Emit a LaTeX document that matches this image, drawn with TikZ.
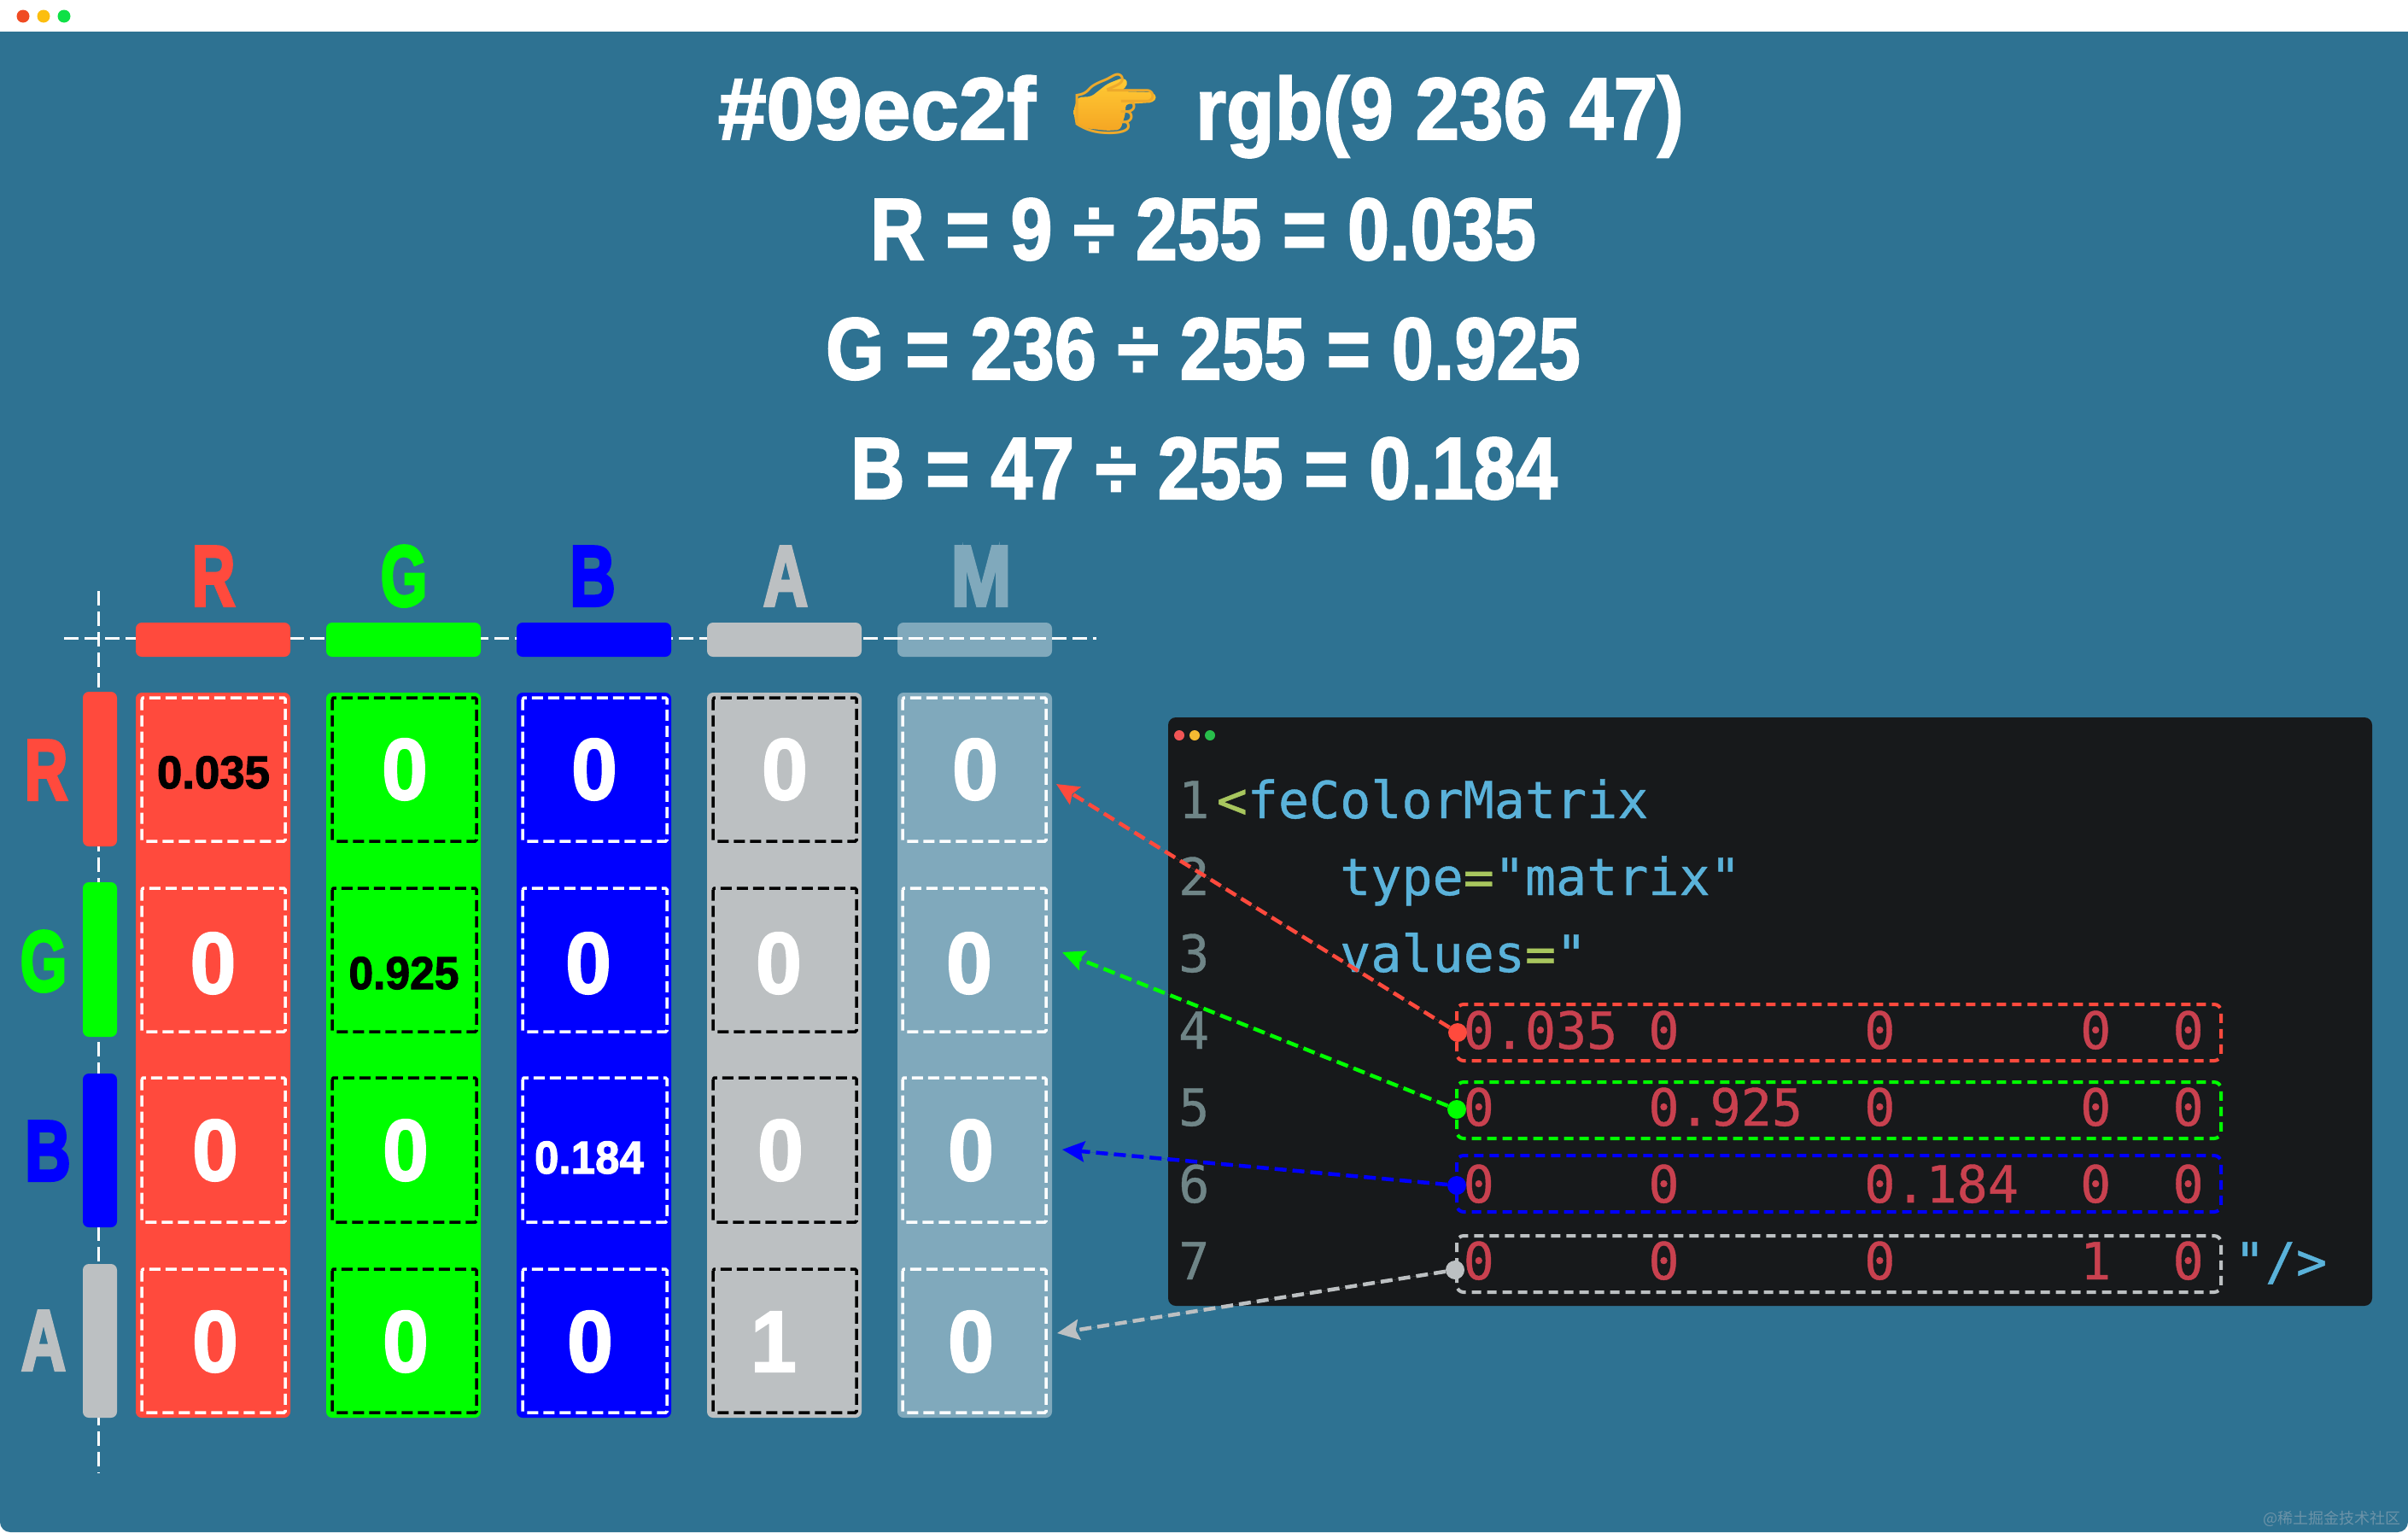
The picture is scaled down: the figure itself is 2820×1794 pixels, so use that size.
\documentclass[tikz,border=0pt]{standalone}
\usepackage{fontspec}
\usepackage{graphicx}
\usetikzlibrary{arrows.meta}
\setmainfont{Liberation Sans}
\newfontfamily\hvy{Liberation Sans}[BoldFeatures={FakeBold=2}]
\newfontfamily\hvyb{Liberation Sans}[BoldFeatures={FakeBold=4}]
\newfontfamily\codefont{DejaVu Sans Mono}[FakeBold=0.7]
\newfontfamily\emojifont{Noto Emoji}
\newfontfamily\cjk{Noto Sans CJK SC}
\definecolor{bgteal}{HTML}{2E7292}
\definecolor{cR}{HTML}{FF4A3D}
\definecolor{cG}{HTML}{00FF00}
\definecolor{cB}{HTML}{0000FF}
\definecolor{cA}{HTML}{BCC0C2}
\definecolor{cM}{HTML}{80A9BC}
\definecolor{panel}{HTML}{17191B}
\definecolor{lnum}{HTML}{6F8587}
\definecolor{cblue}{HTML}{5AB2DA}
\definecolor{cgreen}{HTML}{A8C65E}
\definecolor{cred}{HTML}{C9414F}
\definecolor{handA}{HTML}{FFCB35}
\definecolor{handB}{HTML}{F5A623}
\definecolor{handC}{HTML}{EDA92B}
\definecolor{wmark}{HTML}{6C93A8}
\newcommand{\fitw}[2]{\resizebox{#1pt}{\height}{#2}}
\newcommand{\sx}[2]{\scalebox{#1}[1]{#2}}
\tikzset{
  x=1pt,y=-1pt,
  bar/.style={rounded corners=7pt},
  cellbox/.style={line width=3.5pt,dash pattern=on 13pt off 6pt,rounded corners=1.5pt},
  guide/.style={draw=white,line width=3pt,dash pattern=on 17pt off 7pt},
  title/.style={text=white,inner sep=0pt,anchor=base,font=\fontsize{103}{103}\hvy\bfseries},
  letter/.style={inner sep=0pt,anchor=base,font=\fontsize{100}{100}\hvyb\bfseries},
  cellnum/.style={text=white,inner sep=0pt,anchor=base,font=\fontsize{102}{102}\hvy\bfseries},
  smallnum/.style={inner sep=0pt,anchor=base,font=\fontsize{54}{54}\hvy\bfseries},
  code/.style={inner sep=0pt,anchor=base west,font=\fontsize{60}{60}\codefont},
  hl/.style={line width=4pt,dash pattern=on 11pt off 7pt,rounded corners=8pt},
  dotnode/.style={circle,inner sep=0pt,minimum size=22pt},
  link/.style={line width=4.5pt,dash pattern=on 14pt off 7pt,-{Stealth[length=26pt,width=24pt,inset=4pt]}},
}
\begin{document}
\begin{tikzpicture}
\useasboundingbox (0,0) rectangle (2820,1794);
% window
\fill[white] (0,0) rectangle (2820,1794);
\fill[bgteal,rounded corners=12pt] (0,37) rectangle (2820,1794);
\fill[bgteal] (0,37) rectangle (2820,80);
\fill[color={rgb,255:red,240;green,75;blue,35}] (27,19) circle[radius=7.5];
\fill[color={rgb,255:red,252;green,190;blue,15}] (51,19) circle[radius=7.5];
\fill[color={rgb,255:red,15;green,225;blue,70}] (75,19) circle[radius=7.5];

% title
\node[title] (t1a) at (1027,163) {\fitw{372}{\#09ec2f}};
\node[title] (t1b) at (1686,163) {\fitw{572}{rgb(9 236 47)}};
\node[title] (t2) at (1409,304) {\fitw{780}{R = 9 ÷ 255 = 0.035}};
\node[title] (t3) at (1409,444) {\fitw{884}{G = 236 ÷ 255 = 0.925}};
\node[title] (t4) at (1410,584) {\fitw{828}{B = 47 ÷ 255 = 0.184}};
% emoji hand
\shade[top color=handA,bottom color=handB,rounded corners=4pt]
  (1262,114) -- (1278,113) -- (1297,98) -- (1315,91) -- (1321,95) -- (1318,103) -- (1312,107)
  -- (1350,108) -- (1355,114) -- (1350,120) -- (1318,122) -- (1318,133) -- (1312,152)
  -- (1297,153) -- (1270,150) -- (1260,147) -- (1257,130) -- cycle;
\node[inner sep=0pt,text=handC,font=\fontsize{78}{78}\emojifont] (hand) at (1306,122) {👉};

% guides
\draw[guide] (115,692) -- (115,1725);
\draw[guide] (75,747) -- (1040,747);

% column headers, bars and bodies
\foreach \n/\xa/\xb/\cc in {r/159/340/cR,g/382/563/cG,b/605/786/cB,a/828/1009/cA}{
  \fill[\cc,bar] (\xa,729) rectangle (\xb,769);
  \fill[\cc,bar] (\xa,811) rectangle (\xb,1660);
}
\fill[cM,bar] (1051,811) rectangle (1232,1660);
\fill[cM,bar] (1051,729) rectangle (1232,769);
\draw[guide] (1040,747) -- (1284,747);

% row bars
\foreach \cc/\ya/\yb in {cR/810/991,cG/1033/1214,cB/1257/1437,cA/1480/1660}{
  \fill[\cc,bar] (97,\ya) rectangle (137,\yb);
}

% header letters
\node[letter,text=cR] (hR) at (250,709) {\sx{.70}{R}};
\node[letter,text=cG] (hG) at (473,709) {\sx{.70}{G}};
\node[letter,text=cB] (hB) at (694,709) {\sx{.74}{B}};
\node[letter,text=cA] (hA) at (920,709) {\sx{.72}{A}};
\node[letter,text=cM] (hM) at (1149,709) {\sx{.85}{M}};
\node[letter,text=cR] (lR) at (54,936) {\sx{.70}{R}};
\node[letter,text=cG] (lG) at (51,1160) {\sx{.70}{G}};
\node[letter,text=cB] (lB) at (56,1382) {\sx{.74}{B}};
\node[letter,text=cA] (lA) at (51,1604) {\sx{.72}{A}};

% inner dashed boxes
\foreach \xa/\xb/\cc in {166/334/white,389/558/black,612/781/white,835/1003/black,1057/1225/white}{
  \foreach \ya/\yb in {817/985,1040/1208,1262/1431,1486/1654}{
    \draw[cellbox,draw=\cc] (\xa,\ya) rectangle (\xb,\yb);
  }
}

% cell values
\foreach \n/\x/\y/\t in {g1/474/936/0,b1/696/936/0,a1/919/936/0,m1/1142/936/0,
  r2/249.5/1163/0,b2/689/1163/0,a2/912/1163/0,m2/1135/1163/0,
  r3/252/1382/0,g3/475/1382/0,a3/914/1382/0,m3/1137/1382/0,
  r4/252/1606/0,g4/475/1606/0,b4/691/1606/0,a4/906/1606/1,m4/1137/1606/0}{
  \node[cellnum] (v\n) at (\x,\y) {\sx{.95}{\t}};
}
\node[smallnum,text=black] (vr1) at (250,923) {\fitw{132}{0.035}};
\node[smallnum,text=black] (vg2) at (473,1158) {\fitw{129}{0.925}};
\node[smallnum,text=white] (vb3) at (690,1374) {\fitw{128}{0.184}};

% code panel
\fill[panel,rounded corners=9pt] (1368,840) rectangle (2778,1529);
\fill[color={rgb,255:red,240;green,85;blue,85}] (1381,861) circle[radius=6];
\fill[color={rgb,255:red,245;green,185;blue,50}] (1399,861) circle[radius=6];
\fill[color={rgb,255:red,40;green,190;blue,75}] (1417,861) circle[radius=6];

\foreach \k/\y in {1/958,2/1048,3/1138,4/1228,5/1318,6/1408,7/1498}{
  \node[code,text=lnum] (n\k) at (1380,\y) {\k};
}
\node[code] (c1) at (1424.5,958) {\textcolor{cgreen}{<}\textcolor{cblue}{feColorMatrix}};
\node[code] (c2) at (1569,1048) {\textcolor{cblue}{type}\textcolor{cgreen}{=}\textcolor{cblue}{"matrix"}};
\node[code] (c3) at (1569,1138) {\textcolor{cblue}{values}\textcolor{cgreen}{=}\textcolor{cblue}{"}};
\node[code,text=cred] (c4) at (1713.5,1228) {0.035~0~~~~~~0~~~~~~0~~0};
\node[code,text=cred] (c5) at (1713.5,1318) {0~~~~~0.925~~0~~~~~~0~~0};
\node[code,text=cred] (c6) at (1713.5,1408) {0~~~~~0~~~~~~0.184~~0~~0};
\node[code,text=cred] (c7) at (1713.5,1498) {0~~~~~0~~~~~~0~~~~~~1~~0~\textcolor{cblue}{"/>}};

\draw[hl,draw=cR] (1706,1176) rectangle (2601,1242);
\draw[hl,draw=cG] (1706,1267) rectangle (2601,1333);
\draw[hl,draw=cB] (1706,1353) rectangle (2601,1419);
\draw[hl,draw=cA] (1706,1447) rectangle (2601,1513);

% connectors
\coordinate (tipR) at (1237,918);
\coordinate (tipG) at (1244,1115);
\coordinate (tipB) at (1244,1346);
\coordinate (tipA) at (1238,1561);
\node[dotnode,fill=cR] (dotR) at (1707,1209) {};
\node[dotnode,fill=cG] (dotG) at (1706,1299) {};
\node[dotnode,fill=cB] (dotB) at (1706,1388) {};
\node[dotnode,fill=cA] (dotA) at (1704,1487) {};
\draw[link,draw=cR,fill=cR] (dotR) -- (tipR);
\draw[link,draw=cG,fill=cG] (dotG) -- (tipG);
\draw[link,draw=cB,fill=cB] (dotB) -- (tipB);
\draw[link,draw=cA,fill=cA] (dotA) -- (tipA);

% watermark
\node[inner sep=0pt,anchor=base east,text=wmark,font=\fontsize{18}{18}\cjk] (wm) at (2812,1784) {@稀土掘金技术社区};
\end{tikzpicture}
\end{document}
